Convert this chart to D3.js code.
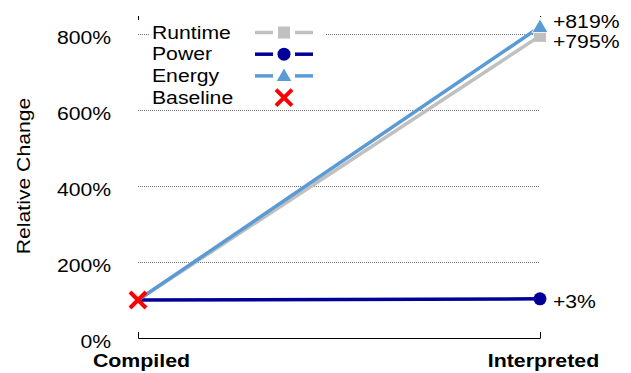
<!DOCTYPE html>
<html>
<head>
<meta charset="utf-8">
<script src="https://cdn.jsdelivr.net/npm/d3@7"></script>
<style>
  body { margin: 0; background: #fff; }
  svg { font-family: "Liberation Sans", Arial, sans-serif; }
</style>
</head>
<body>
<svg id="chart" width="631" height="373"></svg>
<script>
// Build variants and y ticks
const categories = ["Compiled", "Interpreted"];
const yTicks = [0, 200, 400, 600, 800];

// Plotted values (percent) per series
const runtimeValues = [100, 795];
const powerValues = [100, 103];
const energyValues = [100, 819];
const baselineValue = 100;

// End-of-line labels
const runtimeLabel = "+795%";
const powerLabel = "+3%";
const energyLabel = "+819%";

const series = [
  { name: "Runtime", values: runtimeValues, label: runtimeLabel, color: "#c0c0c0", marker: "square", dy: 12 },
  { name: "Power", values: powerValues, label: powerLabel, color: "#000099", marker: "circle", dy: 9 },
  { name: "Energy", values: energyValues, label: energyLabel, color: "#5b9bd5", marker: "triangle", dy: 1 }
];

const FS = 17.5;      // font size
const SX = 1.21;      // horizontal text stretch

const svg = d3.select("#chart");
const x = d3.scalePoint().domain(categories).range([138, 540]);
const y = d3.scaleLinear().domain([0, 800]).range([338, 34]);

// Stretched text helper
function label(g, tx, ty, str, opts = {}) {
  const t = g.append("text")
    .attr("transform", `translate(${tx},${ty})${opts.rotate ? " rotate(" + opts.rotate + ")" : ""} scale(${opts.sx || SX},1)`)
    .attr("font-size", FS)
    .attr("text-anchor", opts.anchor || "start")
    .text(str);
  if (opts.bold) t.attr("font-weight", "bold");
  return t;
}

// Dotted gridlines
svg.append("g").selectAll("line").data(yTicks.filter(d => d > 0)).join("line")
  .attr("x1", 138).attr("x2", 540)
  .attr("y1", d => y(d) + 0.5).attr("y2", d => y(d) + 0.5)
  .attr("stroke", "#777").attr("stroke-width", 1).attr("stroke-dasharray", "1,1");

// Y tick labels
const yl = svg.append("g");
yTicks.forEach(d => label(yl, 111, y(d) + 9.5, d + "%", { anchor: "end" }));

// Y title
label(svg, 30, 176, "Relative Change", { anchor: "middle", rotate: -90 });

// X axis line with inner end ticks
svg.append("path")
  .attr("d", `M${x("Compiled") + 0.5},332V338.5H${x("Interpreted") + 0.5}V332`)
  .attr("fill", "none").attr("stroke", "#000").attr("stroke-width", 1);
// Small frame marks at the top corners
svg.append("line").attr("x1", 138.5).attr("x2", 138.5).attr("y1", 16).attr("y2", 20).attr("stroke", "#000");
svg.append("line").attr("x1", 540.5).attr("x2", 540.5).attr("y1", 16).attr("y2", 17).attr("stroke", "#000");

// X labels
const xl = svg.append("g");
categories.forEach(c => label(xl, x(c) + 3.5, 367, c, { anchor: "middle", bold: true, sx: 1.22 }));

// Legend with white background
const legend = svg.append("g");
legend.append("rect").attr("x", 150).attr("y", 20).attr("width", 176).attr("height", 88).attr("fill", "#fff");
const legendRows = [...series.map(s => s.name), "Baseline"];
const rowY = i => 32.5 + i * 21.7;

function drawMarker(g, type, color, cx, cy) {
  if (type === "square") {
    g.append("rect").attr("x", cx - 6).attr("y", cy - 6).attr("width", 12).attr("height", 12).attr("fill", color);
  } else if (type === "circle") {
    g.append("circle").attr("cx", cx).attr("cy", cy).attr("r", 6.5).attr("fill", color);
  } else if (type === "triangle") {
    g.append("path").attr("d", d3.symbol(d3.symbolTriangle, 90)()).attr("transform", `translate(${cx},${cy + 1})`)
      .attr("fill", color).attr("stroke", "#fff").attr("stroke-width", 1.5).attr("paint-order", "stroke");
  } else if (type === "cross") {
    g.append("path").attr("d", `M${cx - 8},${cy - 8}L${cx + 8},${cy + 8}M${cx + 8},${cy - 8}L${cx - 8},${cy + 8}`)
      .attr("stroke", "#ff0000").attr("stroke-width", 4).attr("fill", "none");
  }
}

legendRows.forEach((name, i) => {
  const cy = rowY(i);
  label(legend, 152, cy + 6, name);
  const s = series.find(d => d.name === name);
  if (s) {
    legend.append("line").attr("x1", 255).attr("x2", 273).attr("y1", cy).attr("y2", cy).attr("stroke", s.color).attr("stroke-width", 3.5);
    legend.append("line").attr("x1", 295).attr("x2", 313).attr("y1", cy).attr("y2", cy).attr("stroke", s.color).attr("stroke-width", 3.5);
    drawMarker(legend, s.marker, s.color, 284, cy);
  } else {
    drawMarker(legend, "cross", "#ff0000", 284, cy);
  }
});

// Series lines
const line = d3.line().x((d, i) => x(categories[i])).y(d => y(d));
series.forEach(s => {
  svg.append("path").datum(s.values).attr("d", line)
    .attr("fill", "none").attr("stroke", s.color).attr("stroke-width", 3.5);
});

// End markers and labels
const ends = svg.append("g");
series.forEach(s => {
  const v = s.values[1];
  drawMarker(ends, s.marker, s.color, x("Interpreted"), y(v));
  label(ends, 553, y(v) + s.dy, s.label);
});

// Baseline marker at the compiled point
drawMarker(svg, "cross", "#ff0000", x("Compiled"), y(baselineValue));
</script>
</body>
</html>
